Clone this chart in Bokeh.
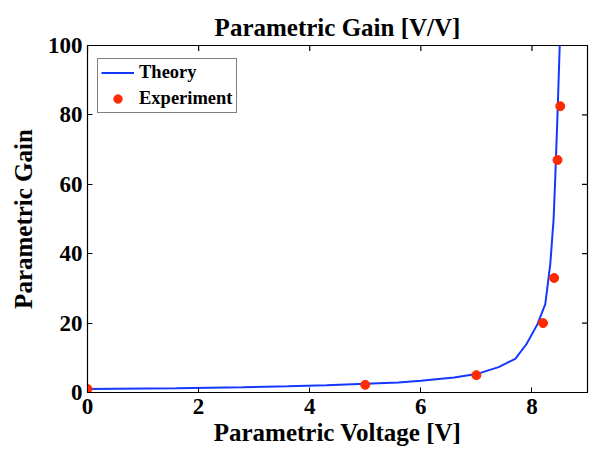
import math
from bokeh.plotting import figure
from bokeh.models import Range1d, FixedTicker, Legend, LegendItem
from bokeh.embed import file_html
from bokeh.resources import INLINE

# Theory curve
theory_v = [0.0, 1.6, 2.8, 3.6, 4.3, 5.0, 5.6, 6.0, 6.6, 7.0, 7.4, 7.7, 7.9, 8.1, 8.24, 8.33, 8.39, 8.42, 8.46, 8.50, 8.52]
theory_g = [1.0, 1.2, 1.5, 1.8, 2.1, 2.5, 2.9, 3.4, 4.3, 5.3, 7.3, 9.7, 13.9, 19.7, 25.5, 37.0, 50.0, 62.0, 80.0, 100.0, 120.0]

# Experimental points
exp_v = [0.0, 5.0, 7.0, 8.2, 8.4, 8.46, 8.51]
exp_g = [1.0, 2.2, 5.0, 20.0, 33.0, 67.0, 82.5]

x_ticks = [0, 2, 4, 6, 8]
y_ticks = [0, 20, 40, 60, 80, 100]
x_min, x_max = 0, 9
y_min, y_max = 0, 100

FONT = "Liberation Serif"
BLUE = "#1438ff"
RED = "#ff2a00"

p = figure(width=591, height=456, x_range=Range1d(x_min, x_max), y_range=Range1d(y_min, y_max),
           output_backend="svg", toolbar_location=None,
           min_border_left=87, min_border_right=4, min_border_top=45, min_border_bottom=64,
           x_axis_label="Parametric Voltage [V]", y_axis_label="Parametric Gain")

p.title.text = "Parametric Gain [V/V]"
p.title.text_font = FONT
p.title.text_font_style = "bold"
p.title.text_font_size = "25px"
p.title.align = "center"
p.title.text_color = "black"
p.title.standoff = 10

p.grid.visible = False
p.outline_line_color = "black"
p.outline_line_width = 1.2
p.background_fill_color = "white"
p.border_fill_color = "white"

for ax in (p.xaxis[0], p.yaxis[0]):
    ax.axis_line_color = "black"
    ax.major_tick_in = 5
    ax.major_tick_out = 0
    ax.minor_tick_line_color = None
    ax.major_tick_line_color = "black"
    ax.major_label_text_font = FONT
    ax.major_label_text_font_style = "bold"
    ax.major_label_text_font_size = "23px"
    ax.major_label_text_color = "black"
    ax.axis_label_text_font = FONT
    ax.axis_label_text_font_style = "bold"
    ax.axis_label_text_font_size = "25px"
    ax.axis_label_text_color = "black"

p.xaxis[0].ticker = FixedTicker(ticks=x_ticks)
p.yaxis[0].ticker = FixedTicker(ticks=y_ticks)
p.xaxis[0].major_label_standoff = 6
p.xaxis[0].axis_label_standoff = 2
p.yaxis[0].major_label_standoff = 5
p.yaxis[0].axis_label_standoff = 8

# inward tick marks on the top and right edges (half of each dash is clipped by the frame)
p.scatter(x_ticks, [y_max] * len(x_ticks), marker="dash", angle=math.pi / 2, size=11,
          line_color="black", line_width=1.2)
p.scatter([x_max] * len(y_ticks), y_ticks, marker="dash", size=11,
          line_color="black", line_width=1.2)

line = p.line(theory_v, theory_g, line_color=BLUE, line_width=2)
dots = p.scatter(exp_v, exp_g, size=9, fill_color=RED, line_color=RED)

legend = Legend(items=[LegendItem(label="Theory", renderers=[line]),
                       LegendItem(label="Experiment", renderers=[dots])],
                location="top_left")
legend.label_text_font = FONT
legend.label_text_font_style = "bold"
legend.label_text_font_size = "18.5px"
legend.label_text_color = "black"
legend.border_line_color = "black"
legend.border_line_width = 1
legend.glyph_width = 33
legend.glyph_height = 21
legend.label_height = 21
legend.label_standoff = 5
legend.padding = 3
legend.spacing = 5
legend.margin = 0
legend.location = (10, 347 - 15 - 53)
legend.background_fill_alpha = 1
p.add_layout(legend)

open("out.html", "w").write(file_html(p, INLINE))
